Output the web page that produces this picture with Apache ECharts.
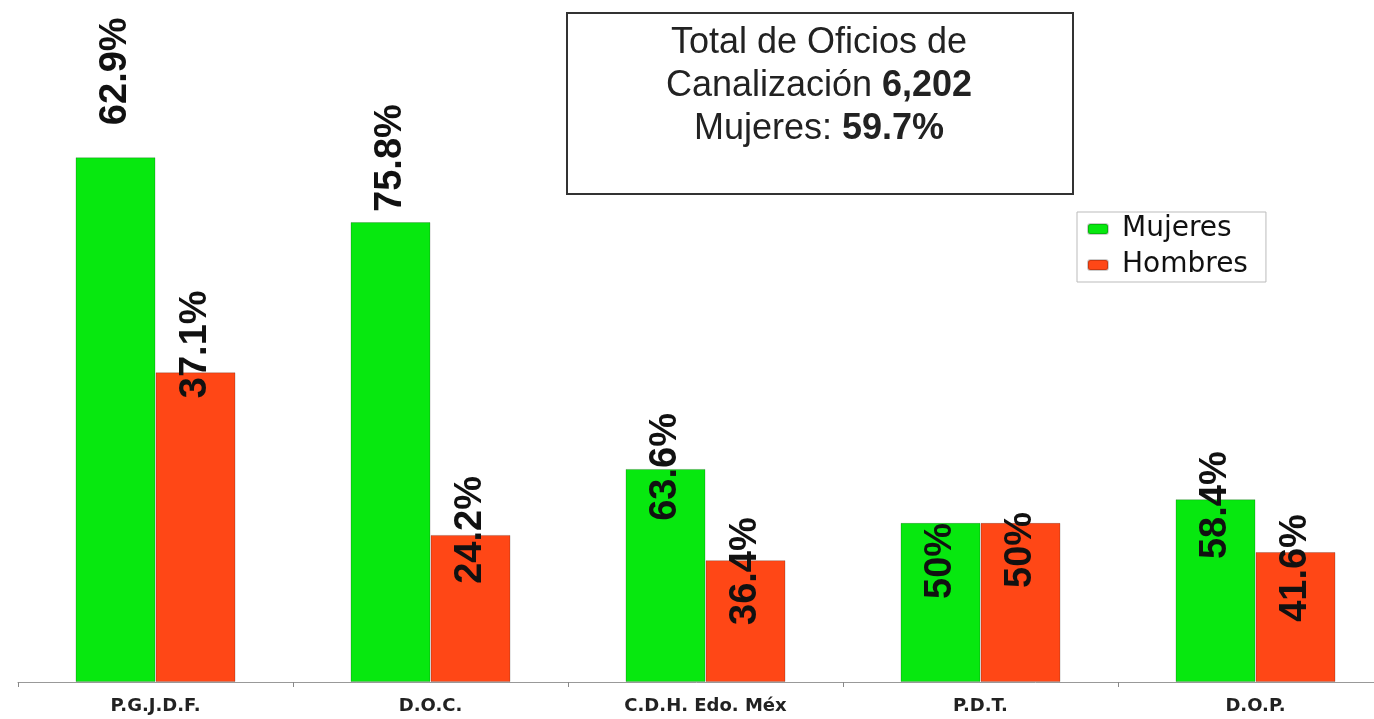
<!DOCTYPE html>
<html>
<head>
<meta charset="utf-8">
<script src="https://cdn.jsdelivr.net/npm/echarts@6/dist/echarts.min.js"></script>
<style>
  html, body { margin: 0; padding: 0; background: #fff; }
  #main { width: 1374px; height: 719px; }
</style>
</head>
<body>
<div id="main"></div>
<script>
// dependencias
var categorias = ['P.G.J.D.F.', 'D.O.C.', 'C.D.H. Edo. Méx', 'P.D.T.', 'D.O.P.'];

var mujeres = [1352, 1185, 549, 410, 471];
var hombres = [798, 379, 314, 410, 335];

// etiquetas de porcentaje
var mujeresPct = ['62.9%', '75.8%', '63.6%', '50%', '58.4%'];
var hombresPct = ['37.1%', '24.2%', '36.4%', '50%', '41.6%'];

// desplazamiento vertical de cada etiqueta respecto al borde superior de la barra (px)
var mujeresDesp = [-86, -64, -2, 38, 6];
var hombresDesp = [-28, -5, 11, 27, 16];

var totalOficios = '6,202';
var totalMujeres = '59.7%';

function armarDatos(valores, textos, desp) {
    return valores.map(function (v, i) {
        return {
            value: v,
            label: {
                position: ['50%', desp[i]],
                formatter: textos[i]
            }
        };
    });
}

var etiqueta = {
    show: true,
    rotate: 90,
    align: 'center',
    verticalAlign: 'middle',
    fontFamily: 'Liberation Sans, Arial, sans-serif',
    fontWeight: 'bold',
    fontSize: 38,
    color: '#111'
};

var myChart = echarts.init(document.getElementById('main'));
myChart.setOption({
    backgroundColor: '#fff',
    animation: false,
    grid: {
        left: 18,
        width: 1375,
        top: 61,
        bottom: 37,
        outerBoundsMode: 'none'
    },
    legend: {
        orient: 'vertical',
        left: 1077,
        top: 212,
        padding: [3, 18, 3, 10],
        itemGap: 8,
        itemWidth: 20,
        itemHeight: 10,
        borderColor: '#bbb',
        borderWidth: 1,
        textStyle: {
            fontFamily: 'DejaVu Sans, sans-serif',
            fontSize: 28,
            color: '#111',
            padding: [0, 0, 0, 9]
        },
        data: ['Mujeres', 'Hombres']
    },
    xAxis: {
        type: 'category',
        data: categorias,
        axisLine: { lineStyle: { color: '#999', width: 1 } },
        axisTick: { show: true, length: 5, lineStyle: { color: '#888' } },
        axisLabel: {
            margin: 15,
            fontFamily: 'DejaVu Sans, sans-serif',
            fontWeight: 'bold',
            fontSize: 18,
            color: '#222'
        }
    },
    yAxis: {
        type: 'value',
        min: 0,
        max: 1600,
        show: false
    },
    series: [
        {
            name: 'Mujeres',
            type: 'bar',
            barWidth: 80,
            barGap: '0%',
            itemStyle: { color: '#07E80F', borderColor: 'rgba(0,0,0,0.2)', borderWidth: 1 },
            label: etiqueta,
            data: armarDatos(mujeres, mujeresPct, mujeresDesp)
        },
        {
            name: 'Hombres',
            type: 'bar',
            barWidth: 80,
            barGap: '0%',
            itemStyle: { color: '#FF4716', borderColor: 'rgba(0,0,0,0.2)', borderWidth: 1 },
            label: etiqueta,
            data: armarDatos(hombres, hombresPct, hombresDesp)
        }
    ],
    graphic: [
        {
            type: 'rect',
            left: 566,
            top: 12,
            shape: { width: 506, height: 181 },
            style: { fill: '#fff', stroke: '#333', lineWidth: 2 },
            z: 10
        },
        {
            type: 'text',
            x: 819,
            y: 86,
            z: 11,
            style: {
                text: 'Total de Oficios de\nCanalización {b|' + totalOficios + '}\nMujeres: {b|' + totalMujeres + '}',
                align: 'center',
                verticalAlign: 'middle',
                fontFamily: 'Liberation Sans, Arial, sans-serif',
                fontSize: 36,
                lineHeight: 43,
                fill: '#222',
                rich: {
                    b: {
                        fontFamily: 'Liberation Sans, Arial, sans-serif',
                        fontSize: 36,
                        fontWeight: 'bold',
                        lineHeight: 43,
                        fill: '#222'
                    }
                }
            }
        }
    ]
});
</script>
</body>
</html>
